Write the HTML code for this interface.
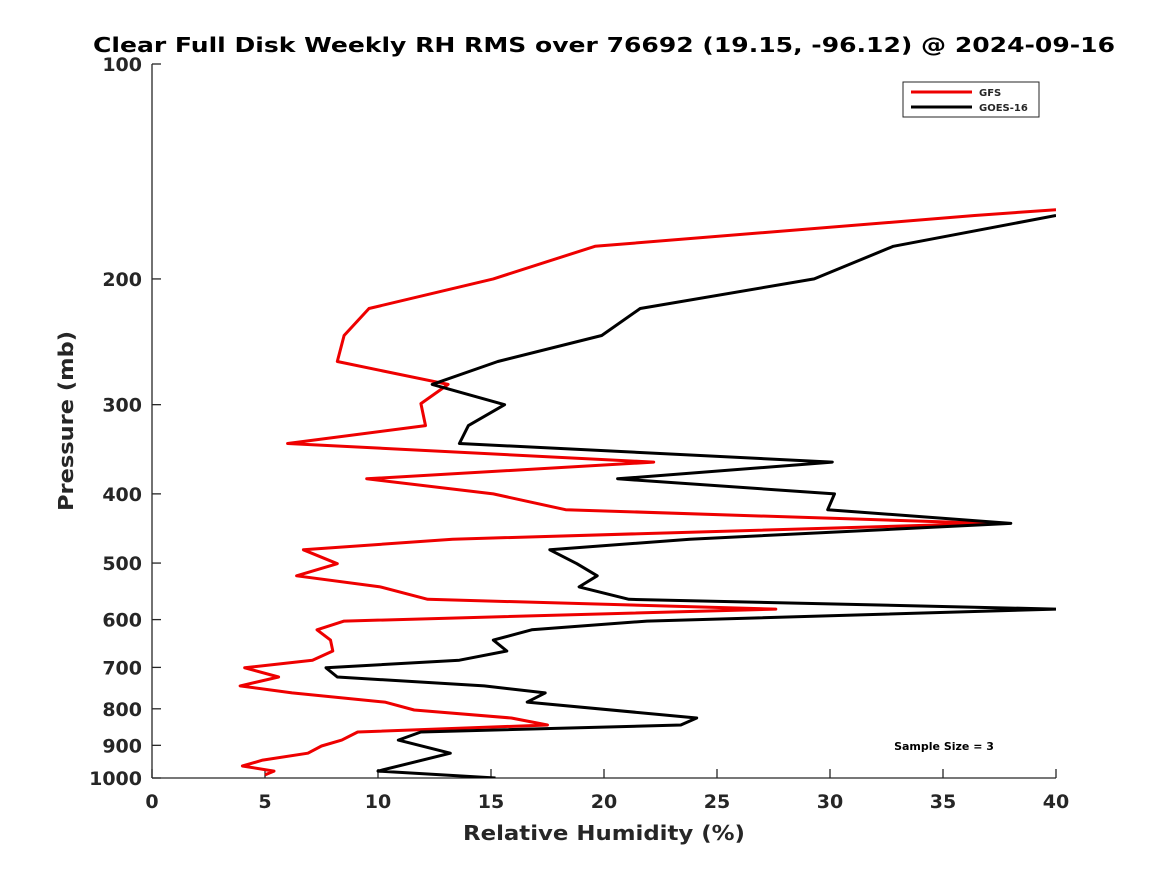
<!DOCTYPE html>
<html><head><meta charset="utf-8"><style>
body{margin:0;background:#fff;}
svg text{font-family:"DejaVu Sans","Liberation Sans",sans-serif;font-weight:bold;fill:#262626;}
</style></head><body>
<svg id="chart" width="1167" height="875" xmlns="http://www.w3.org/2000/svg">
<rect width="1167" height="875" fill="#fff"/>
<text x="604" y="52" text-anchor="middle" font-size="20.5" textLength="1022" lengthAdjust="spacingAndGlyphs" style="fill:#000">Clear Full Disk Weekly RH RMS over 76692 (19.15, -96.12) @ 2024-09-16</text>
<defs><clipPath id="clip"><rect x="152" y="64" width="904" height="714"/></clipPath></defs>
<g id="axes"></g>
<g id="series" clip-path="url(#clip)"></g>
<text x="604" y="840" text-anchor="middle" font-size="20" textLength="282" lengthAdjust="spacingAndGlyphs">Relative Humidity (%)</text>
<text transform="translate(73,421) rotate(-90)" text-anchor="middle" font-size="20" textLength="180" lengthAdjust="spacingAndGlyphs">Pressure (mb)</text>
<g>
<rect x="903" y="82" width="136" height="35" fill="#fff" stroke="#262626" stroke-width="1"/>
<line x1="911" y1="92" x2="972" y2="92" stroke="#e00" stroke-width="3"/>
<text x="979" y="96" font-size="10">GFS</text>
<line x1="911" y1="107" x2="972" y2="107" stroke="#000" stroke-width="3"/>
<text x="979" y="111" font-size="10">GOES-16</text>
</g>
<text x="944" y="750" text-anchor="middle" font-size="11" style="fill:#000">Sample Size = 3</text>
</svg>
<script>
const xTicks=[0,5,10,15,20,25,30,35,40];
const yTicks=[100,200,300,400,500,600,700,800,900,1000];
const gfsP=[160,163,180,200,220,240,261,281,299,321,340,361,381,400,421,440,463,479,501,521,540,562,580,603,620,641,664,684,701,722,743,760,783,803,824,843,862,885,902,923,944,962,978,990];
const gfsRH=[40,36.4,19.6,15.1,9.6,8.5,8.2,13.1,11.9,12.1,6.0,22.2,9.5,15.1,18.3,37.1,13.3,6.7,8.2,6.4,10.1,12.2,27.6,8.5,7.3,7.9,8.0,7.1,4.1,5.6,3.9,6.2,10.3,11.6,15.9,17.5,9.1,8.4,7.5,6.9,4.9,4.0,5.4,5.0];
const goesP=[163,180,200,220,240,261,281,300,321,340,361,381,400,421,440,463,479,501,521,540,562,580,603,620,641,664,684,701,722,743,760,783,824,843,862,885,923,978,1000];
const goesRH=[40,32.8,29.3,21.6,19.9,15.3,12.4,15.6,14.0,13.6,30.1,20.6,30.2,29.9,38.0,23.8,17.6,18.8,19.7,18.9,21.1,40,21.9,16.8,15.1,15.7,13.6,7.7,8.2,14.7,17.4,16.6,24.1,23.4,11.9,10.9,13.2,10.0,15.2];
const NS="http://www.w3.org/2000/svg";
const X=v=>152+v/40*904;
const Y=p=>64+Math.log10(p/100)*714;
const axes=document.getElementById('axes');
function mk(t,a,parent){const e=document.createElementNS(NS,t);for(const k in a)e.setAttribute(k,a[k]);parent.appendChild(e);return e;}
const yAxis=mk('line',{x1:152,y1:64,x2:152,y2:778,stroke:'#262626','stroke-width':1.3},axes);


const xAxis=mk('line',{x1:152,y1:778,x2:1056,y2:778,stroke:'#262626','stroke-width':1.3},axes);


xTicks.forEach(v=>{
 mk('line',{x1:X(v),y1:778,x2:X(v),y2:769,stroke:'#262626','stroke-width':1.3},axes);
 const t=mk('text',{x:X(v),y:808,'text-anchor':'middle','font-size':19},axes);
 
 
 t.textContent=v;
});
yTicks.forEach(p=>{
 mk('line',{x1:152,y1:Y(p),x2:161,y2:Y(p),stroke:'#262626','stroke-width':1.3},axes);
 const t=mk('text',{x:142,y:Y(p)+7,'text-anchor':'end','font-size':19},axes);
 
 
 t.textContent=p;
});
const sg=document.getElementById('series');
function line(P,V,color,name){
 const pts=P.map((p,i)=>X(V[i]).toFixed(1)+','+Y(p).toFixed(1)).join(' ');
 const e=mk('polyline',{points:pts,fill:'none',stroke:color,'stroke-width':3,'stroke-linejoin':'round'},sg);
 
 
}
line(gfsP,gfsRH,'#e00','gfs-line');
line(goesP,goesRH,'#000','goes16-line');
</script>
</body></html>
